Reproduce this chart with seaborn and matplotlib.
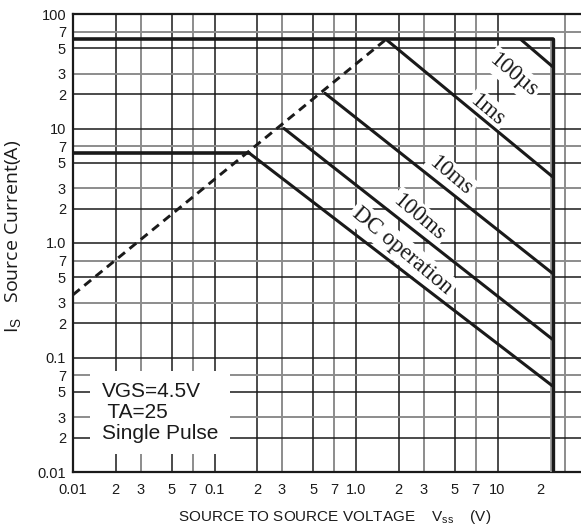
import numpy as np
import pandas as pd
import matplotlib
matplotlib.use('Agg')
import matplotlib.pyplot as plt
import seaborn as sns

# Tick values / labels
x_ticks = [0.01, 0.02, 0.03, 0.05, 0.07, 0.1, 0.2, 0.3, 0.5, 0.7, 1.0, 2, 3, 5, 7, 10, 20]
x_tick_labels = ['0.01', '2', '3', '5', '7', '0.1', '2', '3', '5', '7', '1.0', '2', '3', '5', '7', '10', '2']
y_ticks = [0.01, 0.02, 0.03, 0.05, 0.07, 0.1, 0.2, 0.3, 0.5, 0.7, 1, 2, 3, 5, 7, 10, 20, 30, 50, 70, 100]
y_tick_labels = ['0.01', '2', '3', '5', '7', '0.1', '2', '3', '5', '7', '1.0', '2', '3', '5', '7',
                 '10', '2', '3', '5', '7', '100']
grid_x = [0.02, 0.03, 0.05, 0.07, 0.1, 0.2, 0.3, 0.5, 0.7, 1.0, 2, 3, 5, 7, 10, 30]
grid_y = [0.02, 0.03, 0.05, 0.07, 0.1, 0.2, 0.3, 0.5, 0.7, 1, 2, 3, 5, 7, 10, 20, 30, 50, 70]

# Limits of the safe operating area
v_max = 24.5      # source/source voltage limit (V)
i_max = 60        # pulsed current limit (A)
i_dc = 6.1        # continuous current limit (A)

# R(on) limit (dashed)
rds_v = [0.01, 1.63]
rds_i = [0.353, 60]

# pulse lines
pulse_100us_v = [14.6, 24.5]
pulse_100us_i = [60, 34.7]
pulse_1ms_v = [1.63, 24.5]
pulse_1ms_i = [60, 3.79]
pulse_10ms_v = [0.604, 24.5]
pulse_10ms_i = [20.3, 0.543]
pulse_100ms_v = [0.31, 24.5]
pulse_100ms_i = [10, 0.144]
dc_v = [0.176, 24.5]
dc_i = [6.1, 0.0564]

label_text = ['100\u00b5s', '1ms', '10ms', '100ms', 'DC operation']
label_v = [12.9, 8.47, 4.62, 2.79, 2.12]
label_i = [29.3, 14.5, 3.87, 1.68, 0.857]

sns.set_style('white')
plt.rcParams['font.family'] = ['Liberation Sans', 'DejaVu Sans']
plt.rcParams['mathtext.fontset'] = 'custom'
plt.rcParams['mathtext.rm'] = 'Liberation Sans'

fig = plt.figure(figsize=(5.81, 5.29), dpi=100)
ax = fig.add_axes([73 / 581, 57 / 529, 508 / 581, 458 / 529])
ax.set_xscale('log')
ax.set_yscale('log')
ax.set_xlim(0.01, 38.9)
ax.set_ylim(0.01, 100)

# grid: 3 and 7 lines are grey, the rest black
for v in grid_x:
    m = round(v / 10 ** np.floor(np.log10(v)))
    gray = m in (3, 7)
    ax.axvline(v, color='#8c8c8c' if gray else '#1a1a1a', lw=1.4 if gray else 1.1, zorder=1)
for v in grid_y:
    m = round(v / 10 ** np.floor(np.log10(v)))
    gray = m in (3, 7)
    ax.axhline(v, color='#8c8c8c' if gray else '#1a1a1a', lw=1.4 if gray else 1.1, zorder=1)

# boundary lines
sns.lineplot(x=[0.01, v_max], y=[i_max, i_max], ax=ax, color='#1a1a1a', lw=2.6,
             estimator=None, sort=False, zorder=4)
sns.lineplot(x=[0.01, dc_v[0]], y=[i_dc, i_dc], ax=ax, color='#1a1a1a', lw=2.6,
             estimator=None, sort=False, zorder=4)
ax.plot([v_max * 0.98, v_max * 0.98], [0.01, i_max], color='#9a9a9a', lw=2.0, zorder=3)
ax.plot([v_max, v_max], [0.01, i_max], color='#1a1a1a', lw=2.4, zorder=4)

sns.lineplot(x=rds_v, y=rds_i, ax=ax, color='#1a1a1a', lw=2.1,
             estimator=None, sort=False, zorder=4).lines[-1].set_dashes((3.0, 2.0))

for xs, ys in [(pulse_100us_v, pulse_100us_i), (pulse_1ms_v, pulse_1ms_i),
               (pulse_10ms_v, pulse_10ms_i), (pulse_100ms_v, pulse_100ms_i), (dc_v, dc_i)]:
    sns.lineplot(x=xs, y=ys, ax=ax, color='#1a1a1a', lw=2.2, estimator=None, sort=False, zorder=4)

for t, xv, yv in zip(label_text, label_v, label_i):
    ax.text(xv, yv, t, rotation=-40, rotation_mode='anchor', ha='center', va='center',
            fontsize=16.5, family=['Liberation Serif', 'DejaVu Serif'], color='#1a1a1a',
            bbox=dict(boxstyle='square,pad=0.12', fc='white', ec='none'), zorder=2)

ax.text(0.0565, 0.1965, 'VGS=4.5V\n TA=25\nSingle Pulse', transform=ax.transAxes,
        ha='left', va='top', fontsize=15, linespacing=1.12, color='#1a1a1a',
        bbox=dict(boxstyle='square,pad=0.55', fc='white', ec='none'), zorder=2)

ax.set_xticks(x_ticks)
ax.set_xticklabels(x_tick_labels)
ax.set_yticks(y_ticks)
ax.set_yticklabels(y_tick_labels)
ax.minorticks_off()
narrow = ['Liberation Sans Narrow', 'Liberation Sans', 'DejaVu Sans']
for lab in ax.get_xticklabels() + ax.get_yticklabels():
    lab.set_family(narrow)
    lab.set_fontsize(10.5)
    lab.set_color('#1a1a1a')
ax.tick_params(axis='x', length=0, pad=8)
ax.tick_params(axis='y', length=0, pad=5)

for side in ['left', 'bottom', 'top']:
    ax.spines[side].set_color('#1a1a1a')
    ax.spines[side].set_linewidth(1.6)
ax.spines['right'].set_visible(False)

ax.set_xlabel('SOURCE TO SOURCE VOLTAGE    V$_{\\mathrm{ss}}$    (V)', fontsize=11, color='#1a1a1a')
ax.xaxis.set_label_coords(0.514, -0.0786)
ax.set_ylabel('I$_{\\mathrm{S}}$   Source Current(A)', fontsize=14, color='#1a1a1a',
              family=['Open Sans', 'DejaVu Sans'])
ax.yaxis.label.set_va('center')
ax.yaxis.set_label_coords(-0.116, 0.515)

plt.savefig('out.png', dpi=100)
